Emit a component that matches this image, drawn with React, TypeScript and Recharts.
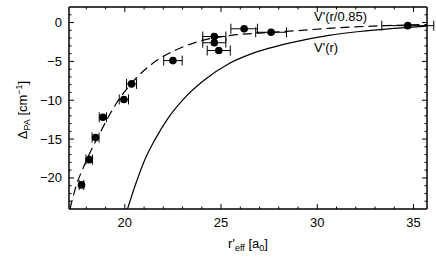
import React from "react";
import {
  ComposedChart,
  ErrorBar,
  Label,
  Line,
  ReferenceDot,
  Scatter,
  XAxis,
  YAxis,
} from "recharts";

const FONT = "'Liberation Sans', Arial, Helvetica, sans-serif";

// measured points: r'_eff, Δ_PA, horizontal error
const PT_X = [17.75, 18.15, 18.48, 18.86, 19.95, 20.35, 22.5, 24.65, 24.65, 24.88, 26.2, 27.6, 34.7];
const PT_Y = [-20.9, -17.65, -14.8, -12.2, -9.9, -7.9, -4.9, -1.8, -2.6, -3.6, -0.8, -1.25, -0.4];
const PT_ERR = [0.12, 0.17, 0.18, 0.19, 0.24, 0.26, 0.48, 0.6, 0.6, 0.6, 0.69, 0.8, 1.35];

// V'(r) solid curve
const SOLID_X = [20.14, 20.52, 21.04, 21.56, 22.25, 23.11, 24.15, 25.4, 26.5, 27.5, 28.9, 30.6, 32.2, 34.0, 35.7];
const SOLID_Y = [-24, -21.1, -17.65, -15.1, -12.3, -9.7, -7.37, -5.3, -4.1, -3.3, -2.45, -1.65, -1.15, -0.75, -0.45];

// V'(r/0.85) dashed curve
const DASH_X = [17.15, 17.49, 17.84, 18.71, 19.57, 20.43, 21.47, 22.68, 23.89, 25.5, 27.0, 28.9, 30.6, 32.5, 34.5, 35.7];
const DASH_Y = [-24, -20.86, -18.7, -14.2, -10.36, -7.58, -5.22, -3.5, -2.4, -1.65, -1.35, -1.05, -0.75, -0.5, -0.32, -0.25];

const X_TICKS = [18, 19, 20, 21, 22, 23, 24, 25, 26, 27, 28, 29, 30, 31, 32, 33, 34, 35];
const X_MAJOR = [20, 25, 30, 35];
const Y_TICKS = [-23, -22, -21, -20, -19, -18, -17, -16, -15, -14, -13, -12, -11, -10, -9, -8, -7, -6, -5, -4, -3, -2, -1, 0, 1];
const Y_MAJOR = [-20, -15, -10, -5, 0];

const X_DOMAIN = [17.1, 35.7];
const Y_DOMAIN = [-24, 2];

const points = PT_X.map((x, i) => ({ x, y: PT_Y[i], e: PT_ERR[i] }));
const solid = SOLID_X.map((x, i) => ({ x, y: SOLID_Y[i] }));
const dashed = DASH_X.map((x, i) => ({ x, y: DASH_Y[i] }));

const fmt = (v: number) => String(v).replace("-", "\u2212");

function BottomTick({ x, y, payload }: any) {
  const major = X_MAJOR.includes(payload.value);
  return (
    <g>
      <line x1={x} y1={y} x2={x} y2={y - (major ? 5 : 2.5)} stroke="#000" />
      {major && (
        <text x={x} y={y + 18} textAnchor="middle" fontSize={13} fontFamily={FONT} fill="#000">
          {payload.value}
        </text>
      )}
    </g>
  );
}

function TopTick({ x, y, payload }: any) {
  const major = X_MAJOR.includes(payload.value);
  return <line x1={x} y1={y} x2={x} y2={y + (major ? 5 : 2.5)} stroke="#000" />;
}

function LeftTick({ x, y, payload }: any) {
  const major = Y_MAJOR.includes(payload.value);
  return (
    <g>
      <line x1={x} y1={y} x2={x + (major ? 5 : 2.5)} y2={y} stroke="#000" />
      {major && (
        <text x={x - 7} y={y + 4.5} textAnchor="end" fontSize={13} fontFamily={FONT} fill="#000">
          {fmt(payload.value)}
        </text>
      )}
    </g>
  );
}

function RightTick({ x, y, payload }: any) {
  const major = Y_MAJOR.includes(payload.value);
  return <line x1={x} y1={y} x2={x - (major ? 5 : 2.5)} y2={y} stroke="#000" />;
}

function XLabel({ viewBox }: any) {
  const cx = viewBox.x + viewBox.width / 2;
  return (
    <text x={cx} y={248} textAnchor="middle" fontSize={13} fontFamily={FONT} fill="#000">
      r'
      <tspan fontSize={9} dy={3}>eff</tspan>
      <tspan dy={-3}>{"  [a"}</tspan>
      <tspan fontSize={9} dy={3}>0</tspan>
      <tspan dy={-3}>]</tspan>
    </text>
  );
}

function YLabel({ viewBox }: any) {
  const cy = viewBox.y + viewBox.height / 2 + 2;
  return (
    <text
      x={27}
      y={cy}
      transform={`rotate(-90 27 ${cy})`}
      textAnchor="middle"
      fontSize={13}
      fontFamily={FONT}
      fill="#000"
    >
      Δ
      <tspan fontSize={9} dy={3}>PA</tspan>
      <tspan dy={-3}> [cm</tspan>
      <tspan fontSize={9} dy={-5}>−1</tspan>
      <tspan dy={5}>]</tspan>
    </text>
  );
}

const curveLabel = (txt: string) => (p: any) => (
  <text x={p.cx} y={p.cy} fontSize={13} fontFamily={FONT} fill="#000">
    {txt}
  </text>
);

export default function App() {
  return (
    <div style={{ position: "fixed", left: 0, top: 0, background: "#fff" }}>
      <ComposedChart width={436} height={261} margin={{ top: 6, right: 8, left: 0, bottom: 0 }}>
        <XAxis
          dataKey="x"
          type="number"
          domain={X_DOMAIN}
          allowDataOverflow
          ticks={X_TICKS}
          interval={0}
          height={52}
          tickSize={0}
          tickMargin={0}
          tickLine={false}
          tick={<BottomTick />}
          axisLine={{ stroke: "#000", strokeWidth: 1.5 }}
        >
          <Label content={<XLabel />} />
        </XAxis>
        <XAxis
          xAxisId="top"
          orientation="top"
          dataKey="x"
          type="number"
          domain={X_DOMAIN}
          allowDataOverflow
          ticks={X_TICKS}
          interval={0}
          height={1}
          tickSize={0}
          tickMargin={0}
          tickLine={false}
          tick={<TopTick />}
          axisLine={{ stroke: "#000", strokeWidth: 1.5 }}
        />
        <YAxis
          type="number"
          domain={Y_DOMAIN}
          allowDataOverflow
          ticks={Y_TICKS}
          interval={0}
          width={69}
          tickSize={0}
          tickMargin={0}
          tickLine={false}
          tick={<LeftTick />}
          axisLine={{ stroke: "#000", strokeWidth: 1.5 }}
        >
          <Label content={<YLabel />} />
        </YAxis>
        <YAxis
          yAxisId="right"
          orientation="right"
          type="number"
          domain={Y_DOMAIN}
          allowDataOverflow
          ticks={Y_TICKS}
          interval={0}
          width={1}
          tickSize={0}
          tickMargin={0}
          tickLine={false}
          tick={<RightTick />}
          axisLine={{ stroke: "#000", strokeWidth: 1.5 }}
        />
        <Line
          data={solid}
          dataKey="y"
          type="monotone"
          stroke="#000"
          strokeWidth={1.2}
          dot={false}
          isAnimationActive={false}
        />
        <Line
          data={dashed}
          xAxisId="top"
          yAxisId="right"
          dataKey="y"
          type="monotone"
          stroke="#000"
          strokeWidth={1.2}
          strokeDasharray="9 5"
          dot={false}
          isAnimationActive={false}
        />
        <Scatter
          data={points}
          dataKey="y"
          isAnimationActive={false}
          shape={(p: any) => <circle cx={p.cx} cy={p.cy} r={3.8} fill="#000" />}
        >
          <ErrorBar dataKey="e" direction="x" width={5} stroke="#000" strokeWidth={1} />
        </Scatter>
        <ReferenceDot x={29.83} y={0.22} r={0} shape={curveLabel("V'(r/0.85)")} />
        <ReferenceDot x={29.83} y={-3.77} r={0} shape={curveLabel("V'(r)")} />
      </ComposedChart>
    </div>
  );
}
